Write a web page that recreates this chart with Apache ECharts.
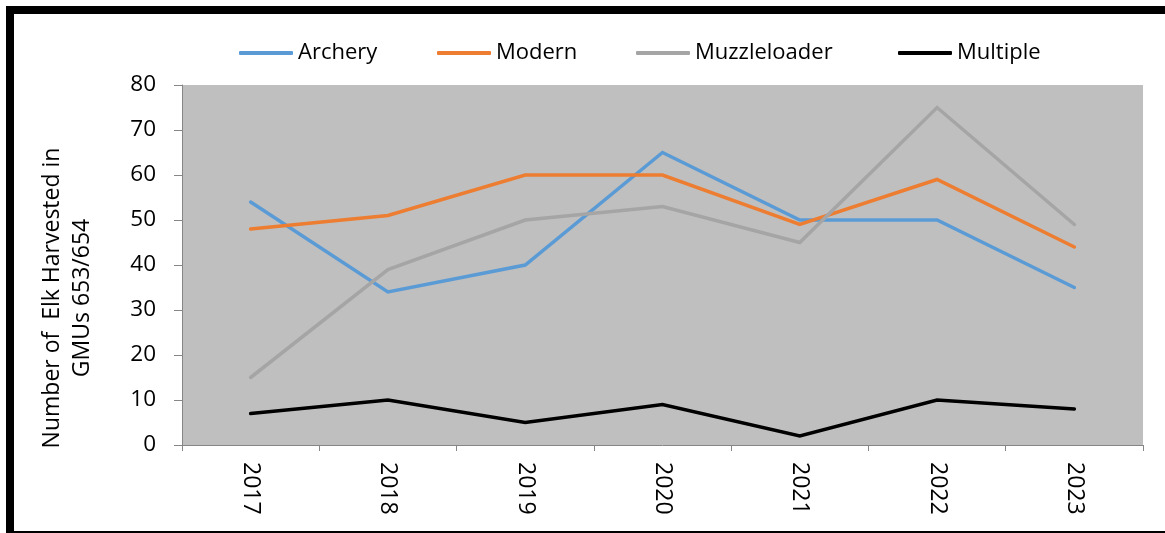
<!DOCTYPE html>
<html><head><meta charset="utf-8">
<script src="https://cdn.jsdelivr.net/npm/echarts@6/dist/echarts.min.js"></script>
<style>
html,body{margin:0;padding:0;background:#fff;}
#wrap{position:relative;width:1165px;height:533px;overflow:hidden;}
#chart{position:absolute;left:0;top:0;width:1165px;height:533px;}
.b{position:absolute;background:#000;}
</style></head>
<body>
<div id="wrap">
<div id="chart"></div>
<div class="b" style="left:6px;top:6px;width:1159px;height:8px;"></div>
<div class="b" style="left:6px;top:6px;width:8px;height:527px;"></div>
<div class="b" style="left:6px;top:531px;width:1159px;height:2px;"></div>
</div>
<script>
const years = ['2017','2018','2019','2020','2021','2022','2023'];
const archery = [54, 34, 40, 65, 50, 50, 35];
const modern = [48, 51, 60, 60, 49, 59, 44];
const muzzleloader = [15, 39, 50, 53, 45, 75, 49];
const multiple = [7, 10, 5, 9, 2, 10, 8];
const seriesNames = ['Archery', 'Modern', 'Muzzleloader', 'Multiple'];
const yTicks = [0, 10, 20, 30, 40, 50, 60, 70, 80];
const yTitle = ['Number of  Elk Harvested in', 'GMUs 653/654'];

const FONT = 'Open Sans';
const colors = ['#5B9BD5', '#ED7D31', '#A5A5A5', '#000000'];
const legendLeft = [239, 437, 636, 898];
const chart = echarts.init(document.getElementById('chart'), null, {renderer: 'canvas'});
function s(name, data, color) {
  return {name, type: 'line', data, showSymbol: false, symbol: 'none',
    lineStyle: {color, width: 3.5, cap: 'round', join: 'miter'}, itemStyle: {color}};
}
const legends = seriesNames.map((n, i) => ({
  left: legendLeft[i], top: 42, padding: 0, itemWidth: 54, itemHeight: 4, itemGap: 0,
  icon: 'roundRect',
  textStyle: {fontFamily: FONT, fontSize: 22, color: '#000', padding: [0, 0, 0, 0]},
  data: [n]
}));
chart.setOption({
  animation: false,
  backgroundColor: '#fff',
  textStyle: {fontFamily: FONT},
  legend: legends,
  grid: {left: 182, right: 22, top: 85, bottom: 88, show: true, backgroundColor: '#BFBFBF', borderWidth: 0, containLabel: false},
  xAxis: {
    type: 'category', data: years, boundaryGap: true,
    axisLine: {lineStyle: {color: '#868686', width: 1}},
    axisTick: {show: true, length: 6, lineStyle: {color: '#868686'}},
    axisLabel: {rotate: -90, margin: 17, fontSize: 23, color: '#000', fontFamily: FONT}
  },
  yAxis: {
    type: 'value', min: yTicks[0], max: yTicks[yTicks.length - 1], interval: 10,
    axisLine: {show: true, lineStyle: {color: '#868686', width: 1}},
    axisTick: {show: true, length: 8, lineStyle: {color: '#868686'}},
    splitLine: {show: false},
    axisLabel: {fontSize: 22.5, color: '#000', margin: 26, fontFamily: FONT}
  },
  graphic: [{
    type: 'text', x: 67, y: 298, rotation: Math.PI / 2,
    style: {text: yTitle.join('\n'), fontSize: 23, fontFamily: FONT, fill: '#000',
      align: 'center', verticalAlign: 'middle', lineHeight: 30}
  }],
  series: seriesNames.map((n, i) => s(n, [archery, modern, muzzleloader, multiple][i], colors[i]))
});
</script>
</body></html>
